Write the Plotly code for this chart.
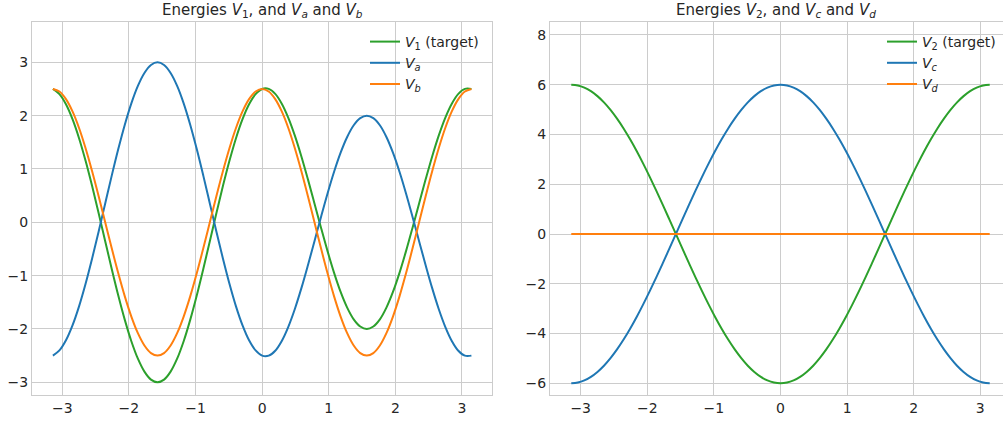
import plotly.graph_objects as go

W, H = 1003, 421

x = [-3.14159, -3.04342, -2.94524, -2.84707, -2.74889, -2.65072, -2.55254, -2.45437,
     -2.35619, -2.25802, -2.15984, -2.06167, -1.96350, -1.86532, -1.76715, -1.66897,
     -1.57080, -1.47262, -1.37445, -1.27627, -1.17810, -1.07992, -0.98175, -0.88357,
     -0.78540, -0.68722, -0.58905, -0.49087, -0.39270, -0.29452, -0.19635, -0.09817,
     0.0,
     0.09817, 0.19635, 0.29452, 0.39270, 0.49087, 0.58905, 0.68722, 0.78540,
     0.88357, 0.98175, 1.07992, 1.17810, 1.27627, 1.37445, 1.47262, 1.57080,
     1.66897, 1.76715, 1.86532, 1.96350, 2.06167, 2.15984, 2.25802, 2.35619,
     2.45437, 2.55254, 2.65072, 2.74889, 2.84707, 2.94524, 3.04342, 3.14159]

V1 = [2.5, 2.403, 2.213, 1.934, 1.577, 1.153, 0.679, 0.171, -0.354, -0.875, -1.373,
      -1.830, -2.230, -2.558, -2.800, -2.950, -3.0, -2.950, -2.800, -2.558, -2.230,
      -1.830, -1.373, -0.875, -0.354, 0.171, 0.679, 1.153, 1.577, 1.934, 2.213, 2.403,
      2.5,
      2.501, 2.408, 2.224, 1.959, 1.625, 1.235, 0.805, 0.354, -0.101, -0.541, -0.948,
      -1.306, -1.600, -1.820, -1.954, -2.0, -1.954, -1.820, -1.600, -1.306, -0.948,
      -0.541, -0.101, 0.354, 0.805, 1.235, 1.625, 1.959, 2.224, 2.408, 2.501, 2.5]

Va = [-2.5, -2.403, -2.213, -1.934, -1.577, -1.153, -0.679, -0.171, 0.354, 0.875, 1.373,
      1.830, 2.230, 2.558, 2.800, 2.950, 3.0, 2.950, 2.800, 2.558, 2.230,
      1.830, 1.373, 0.875, 0.354, -0.171, -0.679, -1.153, -1.577, -1.934, -2.213, -2.403,
      -2.5,
      -2.501, -2.408, -2.224, -1.959, -1.625, -1.235, -0.805, -0.354, 0.101, 0.541, 0.948,
      1.306, 1.600, 1.820, 1.954, 2.0, 1.954, 1.820, 1.600, 1.306, 0.948,
      0.541, 0.101, -0.354, -0.805, -1.235, -1.625, -1.959, -2.224, -2.408, -2.501, -2.5]

Vb = [2.5, 2.452, 2.310, 2.079, 1.768, 1.389, 0.957, 0.488, 0.0, -0.488, -0.957,
      -1.389, -1.768, -2.079, -2.310, -2.452, -2.5, -2.452, -2.310, -2.079, -1.768,
      -1.389, -0.957, -0.488, 0.0, 0.488, 0.957, 1.389, 1.768, 2.079, 2.310, 2.452,
      2.5,
      2.452, 2.310, 2.079, 1.768, 1.389, 0.957, 0.488, 0.0, -0.488, -0.957, -1.389,
      -1.768, -2.079, -2.310, -2.452, -2.5, -2.452, -2.310, -2.079, -1.768, -1.389,
      -0.957, -0.488, 0.0, 0.488, 0.957, 1.389, 1.768, 2.079, 2.310, 2.452, 2.5]

V2 = [6, 5.971, 5.885, 5.742, 5.543, 5.292, 4.989, 4.638, 4.243, 3.806, 3.334, 2.828,
      2.296, 1.742, 1.171, 0.588, 0, -0.588, -1.171, -1.742, -2.296, -2.828, -3.334,
      -3.806, -4.243, -4.638, -4.989, -5.292, -5.543, -5.742, -5.885, -5.971,
      -6,
      -5.971, -5.885, -5.742, -5.543, -5.292, -4.989, -4.638, -4.243, -3.806, -3.334,
      -2.828, -2.296, -1.742, -1.171, -0.588, 0, 0.588, 1.171, 1.742, 2.296, 2.828,
      3.334, 3.806, 4.243, 4.638, 4.989, 5.292, 5.543, 5.742, 5.885, 5.971, 6]

Vc = [-6, -5.971, -5.885, -5.742, -5.543, -5.292, -4.989, -4.638, -4.243, -3.806, -3.334,
      -2.828, -2.296, -1.742, -1.171, -0.588, 0, 0.588, 1.171, 1.742, 2.296, 2.828, 3.334,
      3.806, 4.243, 4.638, 4.989, 5.292, 5.543, 5.742, 5.885, 5.971,
      6,
      5.971, 5.885, 5.742, 5.543, 5.292, 4.989, 4.638, 4.243, 3.806, 3.334,
      2.828, 2.296, 1.742, 1.171, 0.588, 0, -0.588, -1.171, -1.742, -2.296, -2.828,
      -3.334, -3.806, -4.243, -4.638, -4.989, -5.292, -5.543, -5.742, -5.885, -5.971, -6]

Vd = [0.0] * 65

left_names = ["<i>V</i><sub>1</sub> (target)", "<i>V<sub>a</sub></i>", "<i>V<sub>b</sub></i>"]
right_names = ["<i>V</i><sub>2</sub> (target)", "<i>V<sub>c</sub></i>", "<i>V<sub>d</sub></i>"]
titles = ["Energies <i>V</i><sub>1</sub>, and <i>V<sub>a</sub></i> and <i>V<sub>b</sub></i>",
          "Energies <i>V</i><sub>2</sub>, and <i>V<sub>c</sub></i> and <i>V<sub>d</sub></i>"]
ticks_x = [-3, -2, -1, 0, 1, 2, 3]
ticks_y_left = [-3, -2, -1, 0, 1, 2, 3]
ticks_y_right = [-6, -4, -2, 0, 2, 4, 6, 8]

GREEN, BLUE, ORANGE = "#2ca02c", "#1f77b4", "#ff7f0e"
TXT = "#262626"
GRID = "#cccccc"
FONT = "DejaVu Sans"

fig = go.Figure()
for ys, name, col in zip([V1, Va, Vb], left_names, [GREEN, BLUE, ORANGE]):
    fig.add_trace(go.Scatter(x=x, y=ys, name=name, mode="lines",
                             line=dict(color=col, width=2, shape="spline", smoothing=1),
                             xaxis="x", yaxis="y", legend="legend"))
for ys, name, col in zip([V2, Vc, Vd], right_names, [GREEN, BLUE, ORANGE]):
    fig.add_trace(go.Scatter(x=x, y=ys, name=name, mode="lines",
                             line=dict(color=col, width=2, shape="spline", smoothing=1),
                             xaxis="x2", yaxis="y2", legend="legend2"))


def px(v):
    return v / W


def py(v):
    return 1 - v / H


axis_common = dict(showgrid=True, gridcolor=GRID, gridwidth=1, zeroline=False,
                   showline=True, linecolor=GRID, linewidth=1.3, mirror=True,
                   automargin=False,
                   ticks="", tickfont=dict(family=FONT, size=14, color=TXT))

fig.update_layout(
    width=W, height=H,
    margin=dict(l=0, r=0, t=0, b=0, autoexpand=False),
    paper_bgcolor="white", plot_bgcolor="white",
    font=dict(family=FONT, color=TXT),
    xaxis=dict(domain=[px(32), px(492.3)], range=[-3.455, 3.455], tickvals=ticks_x,
               anchor="y", **axis_common),
    yaxis=dict(domain=[py(395.3), py(22.3)], range=[-3.244, 3.75], tickvals=ticks_y_left,
               anchor="x", **axis_common),
    xaxis2=dict(domain=[px(550), 1.0], range=[-3.461, 3.341], tickvals=ticks_x,
                anchor="y2", **axis_common),
    yaxis2=dict(domain=[py(395.3), py(22.3)], range=[-6.482, 8.51], tickvals=ticks_y_right,
                anchor="x2", **axis_common),
    legend=dict(x=px(484), y=py(26), xanchor="right", yanchor="top",
                bgcolor="rgba(0,0,0,0)", font=dict(family=FONT, size=14, color=TXT),
                tracegroupgap=0),
    legend2=dict(x=px(1001), y=py(26), xanchor="right", yanchor="top",
                 bgcolor="rgba(0,0,0,0)", font=dict(family=FONT, size=14, color=TXT),
                 tracegroupgap=0),
    showlegend=True,
    annotations=[
        dict(text=titles[0], x=px(262), y=py(11), xref="paper", yref="paper",
             xanchor="center", yanchor="middle", showarrow=False,
             font=dict(family=FONT, size=15, color=TXT)),
        dict(text=titles[1], x=px(776), y=py(11), xref="paper", yref="paper",
             xanchor="center", yanchor="middle", showarrow=False,
             font=dict(family=FONT, size=15, color=TXT)),
    ],
)

fig.write_html("out.html", config={"displayModeBar": False},
               post_script="document.body.style.margin='0px';document.body.style.overflow='hidden';")
